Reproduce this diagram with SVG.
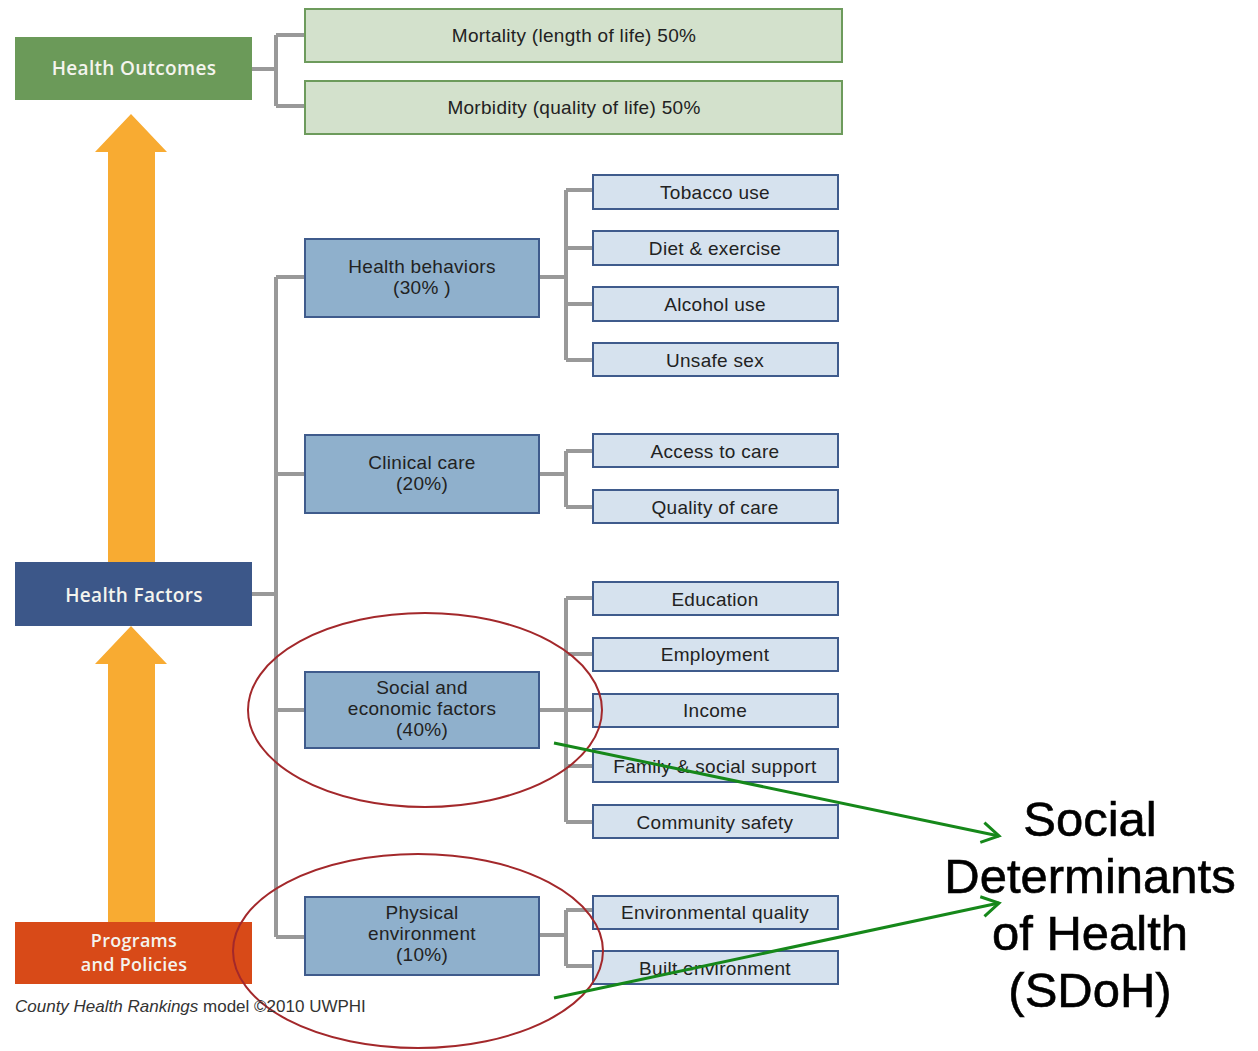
<svg xmlns="http://www.w3.org/2000/svg" width="1258" height="1051" viewBox="0 0 1258 1051">
<style>
.lbl{font-family:"Liberation Sans",Arial,sans-serif;font-size:19px;fill:#222;text-anchor:middle;letter-spacing:0.3px}
.main{font-family:"Open Sans","Liberation Sans",Arial,sans-serif;font-size:19px;font-weight:600;fill:#f4f4ee;text-anchor:middle;letter-spacing:0.3px}
.out{fill:#d3e1cc;stroke:#6d9b5c;stroke-width:2}
.fac{fill:#8fb0cc;stroke:#3f5b8c;stroke-width:2}
.sub{fill:#d6e2ee;stroke:#3f5b8c;stroke-width:2}
.conn{fill:none;stroke:#999;stroke-width:4}
.ell{fill:none;stroke:#a3282b;stroke-width:2}
.grn{fill:none;stroke:#16881a;stroke-width:3}
.sdoh{font-family:"Liberation Sans",Arial,sans-serif;font-size:49px;fill:#000;stroke:#000;stroke-width:0.6;text-anchor:middle}
</style>
<defs>
<marker id="chev" markerWidth="24" markerHeight="24" refX="19" refY="12" orient="auto" markerUnits="userSpaceOnUse" viewBox="0 0 24 24">
<path d="M2,2 L19,12 L2,22" fill="none" stroke="#16881a" stroke-width="3"/>
</marker>
</defs>
<rect width="1258" height="1051" fill="#fff"/>

<g id="arrows-orange" fill="#f8ab32">
<path d="M108,562 L108,152 L95,152 L131,114 L167,152 L155,152 L155,562 Z"/>
<path d="M108,922 L108,664 L95,664 L131,626 L167,664 L155,664 L155,922 Z"/>
</g>

<g id="connectors">
<path class="conn" d="M252,69 H276 M276,35 V106 M276,35 H305 M276,106 H305"/>
<path class="conn" d="M252,594 H276 M276,277 V937 M276,277 H305 M276,474 H305 M276,710 H305 M276,937 H305"/>
<path class="conn" d="M539,277 H566 M566,190 V360 M566,190 H593 M566,248 H593 M566,304 H593 M566,360 H593"/>
<path class="conn" d="M539,474 H566 M566,451 V507 M566,451 H593 M566,507 H593"/>
<path class="conn" d="M539,710 H566 M566,598 V822 M566,598 H593 M566,654 H593 M566,710 H593 M566,766 H593 M566,822 H593"/>
<path class="conn" d="M539,935 H566 M566,910 V966 M566,910 H593 M566,966 H593"/>
</g>

<g id="health-outcomes"><rect x="15" y="37" width="237" height="63" fill="#6b9a59"/><text class="main" x="134" y="75">Health Outcomes</text></g>
<g id="health-factors"><rect x="15" y="562" width="237" height="64" fill="#3c5789"/><text class="main" x="134" y="602">Health Factors</text></g>
<g id="programs"><rect x="15" y="922" width="237" height="62" fill="#d84a18"/><text class="main" x="134" y="947" style="font-size:18px">Programs</text><text class="main" x="134" y="971" style="font-size:18px">and Policies</text></g>

<g id="mortality"><rect class="out" x="305" y="9" width="537" height="53"/><text class="lbl" x="574" y="42">Mortality (length of life) 50%</text></g>
<g id="morbidity"><rect class="out" x="305" y="81" width="537" height="53"/><text class="lbl" x="574" y="114">Morbidity (quality of life) 50%</text></g>

<g id="health-behaviors"><rect class="fac" x="305" y="239" width="234" height="78"/><text class="lbl" x="422" y="273">Health behaviors</text><text class="lbl" x="422" y="294">(30% )</text></g>
<g id="clinical-care"><rect class="fac" x="305" y="435" width="234" height="78"/><text class="lbl" x="422" y="469">Clinical care</text><text class="lbl" x="422" y="490">(20%)</text></g>
<g id="social-economic"><rect class="fac" x="305" y="672" width="234" height="76"/><text class="lbl" x="422" y="694">Social and</text><text class="lbl" x="422" y="715">economic factors</text><text class="lbl" x="422" y="736">(40%)</text></g>
<g id="physical-env"><rect class="fac" x="305" y="897" width="234" height="78"/><text class="lbl" x="422" y="919">Physical</text><text class="lbl" x="422" y="940">environment</text><text class="lbl" x="422" y="961">(10%)</text></g>

<g id="tobacco"><rect class="sub" x="593" y="175" width="245" height="34"/><text class="lbl" x="715" y="199">Tobacco use</text></g>
<g id="diet"><rect class="sub" x="593" y="231" width="245" height="34"/><text class="lbl" x="715" y="255">Diet &amp; exercise</text></g>
<g id="alcohol"><rect class="sub" x="593" y="287" width="245" height="34"/><text class="lbl" x="715" y="311">Alcohol use</text></g>
<g id="unsafe-sex"><rect class="sub" x="593" y="343" width="245" height="33"/><text class="lbl" x="715" y="367">Unsafe sex</text></g>
<g id="access"><rect class="sub" x="593" y="434" width="245" height="33"/><text class="lbl" x="715" y="458">Access to care</text></g>
<g id="quality"><rect class="sub" x="593" y="490" width="245" height="33"/><text class="lbl" x="715" y="514">Quality of care</text></g>
<g id="education"><rect class="sub" x="593" y="582" width="245" height="33"/><text class="lbl" x="715" y="606">Education</text></g>
<g id="employment"><rect class="sub" x="593" y="638" width="245" height="33"/><text class="lbl" x="715" y="661">Employment</text></g>
<g id="income"><rect class="sub" x="593" y="694" width="245" height="33"/><text class="lbl" x="715" y="717">Income</text></g>
<g id="family"><rect class="sub" x="593" y="749" width="245" height="33"/><text class="lbl" x="715" y="773">Family &amp; social support</text></g>
<g id="community"><rect class="sub" x="593" y="805" width="245" height="33"/><text class="lbl" x="715" y="829">Community safety</text></g>
<g id="environmental"><rect class="sub" x="593" y="896" width="245" height="33"/><text class="lbl" x="715" y="919">Environmental quality</text></g>
<g id="built"><rect class="sub" x="593" y="951" width="245" height="33"/><text class="lbl" x="715" y="975">Built environment</text></g>

<g id="annotations">
<ellipse class="ell" cx="425" cy="710" rx="177" ry="97"/>
<ellipse class="ell" cx="418" cy="951" rx="185" ry="97"/>
<line class="grn" x1="554" y1="743" x2="999" y2="836" marker-end="url(#chev)"/>
<line class="grn" x1="554" y1="998" x2="999" y2="903" marker-end="url(#chev)"/>
</g>

<g id="sdoh">
<text class="sdoh" x="1090" y="836">Social</text>
<text class="sdoh" x="1090" y="893">Determinants</text>
<text class="sdoh" x="1090" y="950">of Health</text>
<text class="sdoh" x="1090" y="1007">(SDoH)</text>
</g>

<text x="15" y="1012" font-family="'Liberation Sans',Arial,sans-serif" font-size="17" fill="#333"><tspan font-style="italic">County Health Rankings</tspan> model ©2010 UWPHI</text>
</svg>
